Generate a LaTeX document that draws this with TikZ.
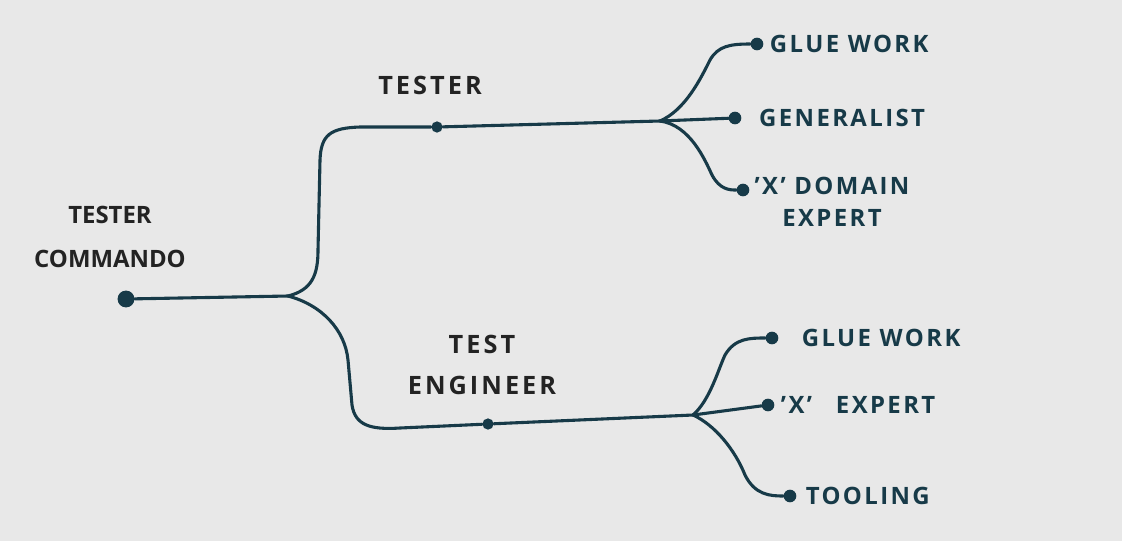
\documentclass[tikz,border=0pt]{standalone}
\usepackage{fontspec}
\setmainfont{Open Sans}
\usetikzlibrary{positioning}

\definecolor{ink}{HTML}{173A48}
\definecolor{marker}{HTML}{232323}
\definecolor{paper}{HTML}{E8E8E8}

\begin{document}
\begin{tikzpicture}[x = 0.025cm, y = -0.025cm,
	dot/.style = {circle, fill = ink, inner sep = 0pt, minimum size = 9pt},
	branch/.style = {ink, line width = 2.2pt, line cap = round},
	role/.style = {text = marker, font = \fontsize{18}{29}\selectfont\bfseries\addfontfeature{LetterSpace = 12}, align = center},
	leaf/.style = {text = ink, font = \fontsize{17}{23}\selectfont\bfseries\addfontfeature{LetterSpace = 10}, align = center}]
	%	paper
	\fill[paper] (0, 0) rectangle (1122, 541);
	\useasboundingbox (0, 0) rectangle (1122, 541);
	
	%	dots
	\node[dot, minimum size = 12pt] (commando) at (126, 299) {};
	\node[dot, minimum size = 8pt] (tester) at (437, 127) {};
	\node[dot, minimum size = 8pt] (engineer) at (488, 424) {};
	\node[dot] (glue1) at (757, 44) {};
	\node[dot] (generalist) at (735, 118) {};
	\node[dot] (domain) at (743, 190) {};
	\node[dot] (glue2) at (772, 338) {};
	\node[dot] (expert) at (768, 405) {};
	\node[dot] (tooling) at (790, 496) {};
	
	%	forks
	\coordinate (forkroot) at (288, 296);
	\coordinate (forktester) at (660, 121);
	\coordinate (forkengineer) at (693, 415);
	
	%	labels
	\node[role, font = \fontsize{17}{31}\selectfont\bfseries] at (110, 237) {TESTER\\COMMANDO};
	\node[role] at (430, 85) {TESTER};
	\node[role] at (482, 365) {TEST\\ENGINEER};
	\node[leaf, right = 1pt of glue1] {GLUE WORK};
	\node[leaf, right = 9pt of generalist] {GENERALIST};
	\node[leaf] at (832, 202) {'X' DOMAIN\\EXPERT};
	\node[leaf, right = 13pt of glue2] {GLUE WORK};
	\node[leaf, right = 1pt of expert] {'X'\quad EXPERT};
	\node[leaf, right = 3pt of tooling] {TOOLING};
	
	%	trunk
	\draw[branch] (commando) -- (forkroot);
	\draw[branch] (forkroot) .. controls (312, 290) and (318, 275) .. (318, 250)
		-- (320, 160) .. controls (321, 135) and (330, 128) .. (360, 127) -- (tester);
	\draw[branch] (forkroot) .. controls (322, 305) and (345, 330) .. (348, 360)
		-- (352, 405) .. controls (355, 425) and (370, 430) .. (400, 428) -- (engineer);
	
	%	tester
	\draw[branch] (tester) -- (forktester);
	\draw[branch] (forktester) .. controls (685, 110) and (700, 80) .. (710, 60)
		.. controls (718, 46) and (730, 44) .. (glue1);
	\draw[branch] (forktester) -- (generalist);
	\draw[branch] (forktester) .. controls (690, 125) and (705, 160) .. (712, 175)
		.. controls (720, 190) and (730, 190) .. (domain);
	
	%	test engineer
	\draw[branch] (engineer) -- (forkengineer);
	\draw[branch] (forkengineer) .. controls (710, 400) and (718, 370) .. (725, 355)
		.. controls (735, 338) and (750, 338) .. (glue2);
	\draw[branch] (forkengineer) -- (expert);
	\draw[branch] (forkengineer) .. controls (715, 425) and (735, 450) .. (745, 475)
		.. controls (755, 495) and (770, 496) .. (tooling);
\end{tikzpicture}
\end{document}
